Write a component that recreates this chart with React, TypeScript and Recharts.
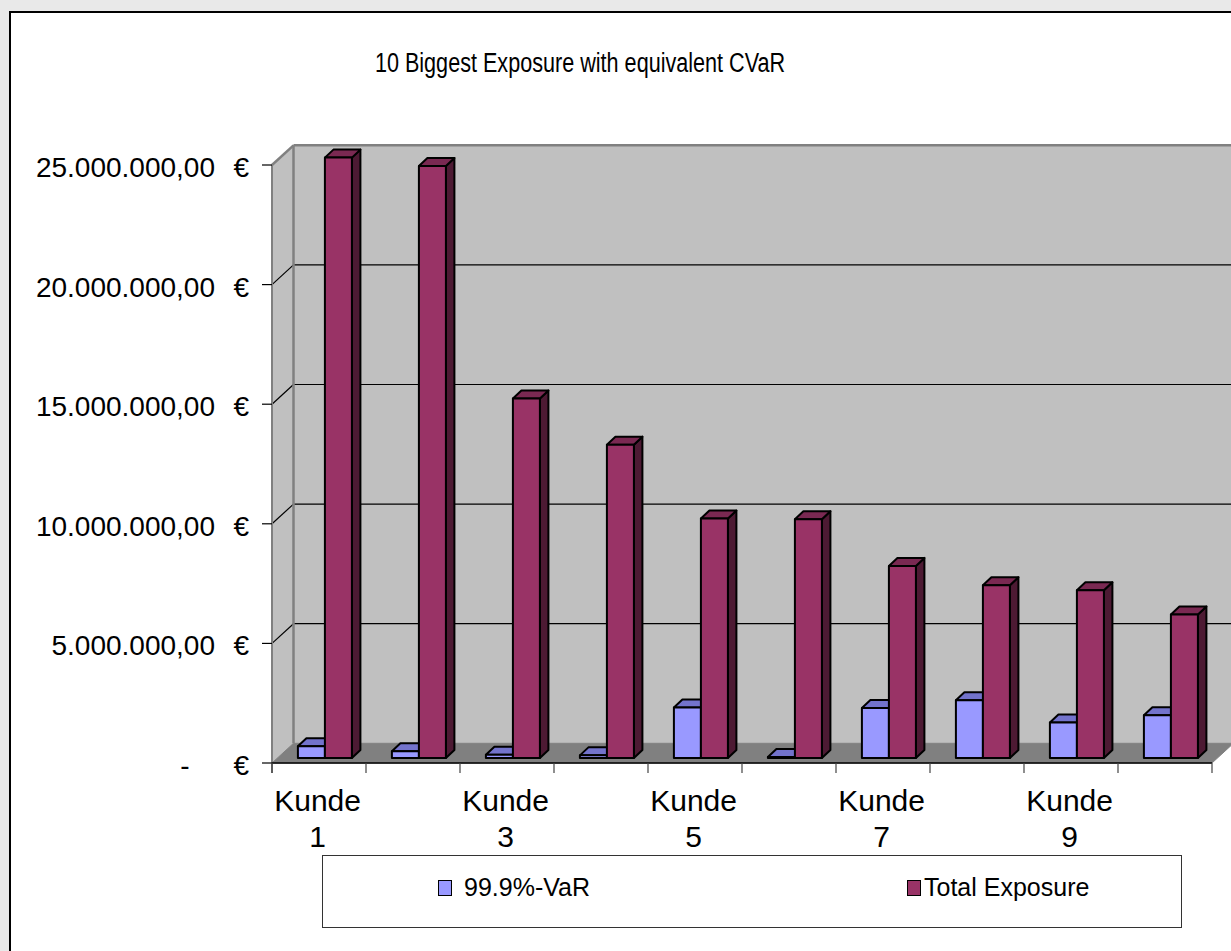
import React from 'react';
import { BarChart, Bar, XAxis, YAxis, ReferenceArea, Legend } from 'recharts';

// values (EUR)
const categories = ['Kunde 1', 'Kunde 2', 'Kunde 3', 'Kunde 4', 'Kunde 5', 'Kunde 6', 'Kunde 7', 'Kunde 8', 'Kunde 9', 'Kunde 10'];
const varValues = [490000, 280000, 140000, 110000, 2110000, 40000, 2090000, 2410000, 1480000, 1790000];
const totalValues = [25100000, 24750000, 15030000, 13100000, 10010000, 9980000, 8030000, 7220000, 7010000, 6000000];
const yTicks = [0, 5000000, 10000000, 15000000, 20000000, 25000000];
const seriesNames = ['99.9%-VaR', 'Total Exposure'];

const data = categories.map((name, i) => ({ name, var: varValues[i], total: totalValues[i] }));

const FONT = '"Liberation Sans", Arial, Helvetica, sans-serif';
const Y_MAX = 25000000;
// 3D offsets relative to the plane the bars stand in
const FRONT = { dx: -5.6, dy: 5 };
const BACK = { dx: 15.9, dy: -14.7 };
const BAR_DEPTH = { dx: 8.5, dy: -8 };

const formatEuro = (v: number) =>
  Math.round(v).toString().replace(/\B(?=(\d{3})+(?!\d))/g, '.') + ',00';

function makeBar3D(front: string, top: string, side: string) {
  return (props: any) => {
    const { x, y, width, height } = props;
    if (x == null || y == null || !width) return <g />;
    const h = Math.max(height || 0, 0);
    const { dx, dy } = BAR_DEPTH;
    return (
      <g stroke="#000" strokeWidth={2} strokeLinejoin="round">
        <polygon
          points={`${x + width},${y} ${x + width + dx},${y + dy} ${x + width + dx},${y + h + dy} ${x + width},${y + h}`}
          fill={side}
        />
        <polygon
          points={`${x},${y} ${x + dx},${y + dy} ${x + width + dx},${y + dy} ${x + width},${y}`}
          fill={top}
        />
        <rect x={x} y={y} width={width} height={h} fill={front} />
      </g>
    );
  };
}

// back wall, side wall, floor, grid and front axes, built from the 0..25M rect
function Walls(props: any) {
  const { x, y, width: w, height: h } = props;
  if (x == null) return <g />;
  const n = categories.length;
  const fx = x + FRONT.dx;
  const fy = y + FRONT.dy;
  const bx = x + BACK.dx;
  const by = y + BACK.dy;
  const yOf = (v: number) => h * (1 - v / Y_MAX);
  return (
    <g>
      <rect x={bx} y={by} width={w + 20} height={h} fill="#c0c0c0" />
      <polygon points={`${fx},${fy} ${bx},${by} ${bx},${by + h} ${fx},${fy + h}`} fill="#c0c0c0" />
      {yTicks
        .filter((v) => v > 0 && v < Y_MAX)
        .map((v) => (
          <g key={v} stroke="#000" strokeWidth={1.2}>
            <line x1={bx} y1={by + yOf(v)} x2={bx + w + 20} y2={by + yOf(v)} />
            <line x1={fx} y1={fy + yOf(v)} x2={bx} y2={by + yOf(v)} />
          </g>
        ))}
      <g stroke="#808080" strokeWidth={2.5} fill="none">
        <line x1={bx} y1={by} x2={bx + w + 20} y2={by} />
        <line x1={fx} y1={fy} x2={bx} y2={by} />
        <line x1={bx} y1={by} x2={bx} y2={by + h} />
      </g>
      <polygon
        points={`${fx},${fy + h} ${fx + w},${fy + h} ${bx + w},${by + h} ${bx},${by + h}`}
        fill="#808080"
        stroke="#808080"
      />
      <line x1={fx} y1={fy} x2={fx} y2={fy + h + 10} stroke="#808080" strokeWidth={2} />
      {yTicks.map((v) => (
        <line key={v} x1={fx - 10} y1={fy + yOf(v)} x2={fx} y2={fy + yOf(v)} stroke="#000" strokeWidth={1.2} />
      ))}
      <line x1={fx} y1={fy + h} x2={fx + w} y2={fy + h} stroke="#000" strokeWidth={1.5} />
      {Array.from({ length: n + 1 }, (_, i) => (
        <line key={i} x1={fx + (i * w) / n} y1={fy + h} x2={fx + (i * w) / n} y2={fy + h + 10} stroke="#444" strokeWidth={1.2} />
      ))}
    </g>
  );
}

function YTick(props: any) {
  const { x, y, payload } = props;
  const v = payload.value as number;
  const ty = y + 17;
  return (
    <g fontFamily={FONT} fontSize={28} fill="#000">
      {v === 0 ? (
        <text x={x - 92.6} y={ty} textAnchor="middle">-</text>
      ) : (
        <text x={x - 62.6} y={ty} textAnchor="end">{formatEuro(v)}</text>
      )}
      <text x={x - 28.6} y={ty} textAnchor="end">€</text>
    </g>
  );
}

function XTick(props: any) {
  const { x, y, payload, index } = props;
  if (index % 2 !== 0) return <g />;
  const [word, num] = String(payload.value).split(' ');
  return (
    <g fontFamily={FONT} fontSize={30} fill="#000" textAnchor="middle">
      <text x={x - 7} y={y + 53}>{word}</text>
      <text x={x - 7} y={y + 89}>{num}</text>
    </g>
  );
}

const swatchX = [115, 584];
const textX = [141, 601];

function LegendBox(props: any) {
  const payload = props.payload || [];
  return (
    <div
      style={{
        position: 'relative',
        width: 860,
        height: 73,
        border: '1px solid #333',
        background: '#fff',
        boxSizing: 'border-box',
        fontFamily: FONT,
        fontSize: 25,
      }}
    >
      {payload.map((p: any, i: number) => (
        <React.Fragment key={p.value}>
          <div
            style={{
              position: 'absolute',
              left: swatchX[i],
              top: 24,
              width: 12,
              height: 14,
              background: p.color,
              border: '1.5px solid #000',
            }}
          />
          <div style={{ position: 'absolute', left: textX[i], top: 17, lineHeight: '28px', whiteSpace: 'nowrap' }}>
            {p.value}
          </div>
        </React.Fragment>
      ))}
    </div>
  );
}

export default function App() {
  return (
    <div style={{ position: 'absolute', left: 0, top: 0, width: 1231, height: 951, overflow: 'hidden', background: '#e9e9e9' }}>
      <div
        style={{
          position: 'absolute',
          left: 9,
          top: 11,
          width: 1250,
          height: 960,
          border: '2.5px solid #000',
          background: '#fff',
          boxSizing: 'border-box',
        }}
      />
      <div
        style={{
          position: 'absolute',
          left: 180,
          width: 800,
          top: 46,
          lineHeight: '34px',
          textAlign: 'center',
          fontFamily: FONT,
          fontSize: 27,
          color: '#000',
          transform: 'scaleX(0.8)',
          transformOrigin: '400px 0',
          whiteSpace: 'nowrap',
        }}
      >
        10 Biggest Exposure with equivalent CVaR
      </div>
      <div style={{ position: 'absolute', left: 0, top: 0 }}>
        <BarChart
          width={1231}
          height={951}
          data={data}
          margin={{ top: 136.08, right: 13.4, bottom: 133, left: 17.6 }}
          barCategoryGap="21.6%"
          barGap={0}
        >
          <ReferenceArea y1={0} y2={Y_MAX} shape={<Walls />} fill="none" stroke="none" zIndex={-100} ifOverflow="visible" />
          <XAxis
            dataKey="name"
            height={60}
            interval={0}
            axisLine={false}
            tickLine={false}
            tickSize={0}
            tickMargin={0}
            tick={<XTick />}
          />
          <YAxis
            type="number"
            domain={[0, 26000000]}
            ticks={yTicks}
            interval={0}
            width={260}
            axisLine={false}
            tickLine={false}
            tickSize={0}
            tickMargin={0}
            tick={<YTick />}
          />
          <Legend
            layout="vertical"
            align="center"
            verticalAlign="middle"
            wrapperStyle={{ left: 322, top: 855, width: 860, height: 73 }}
            content={<LegendBox />}
          />
          <Bar
            dataKey="var"
            name={seriesNames[0]}
            fill="#9999ff"
            shape={makeBar3D('#9999ff', '#7373cc', '#4d4d80')}
            isAnimationActive={false}
          />
          <Bar
            dataKey="total"
            name={seriesNames[1]}
            fill="#993366"
            shape={makeBar3D('#993366', '#7a2952', '#4d1a33')}
            isAnimationActive={false}
          />
        </BarChart>
      </div>
    </div>
  );
}
